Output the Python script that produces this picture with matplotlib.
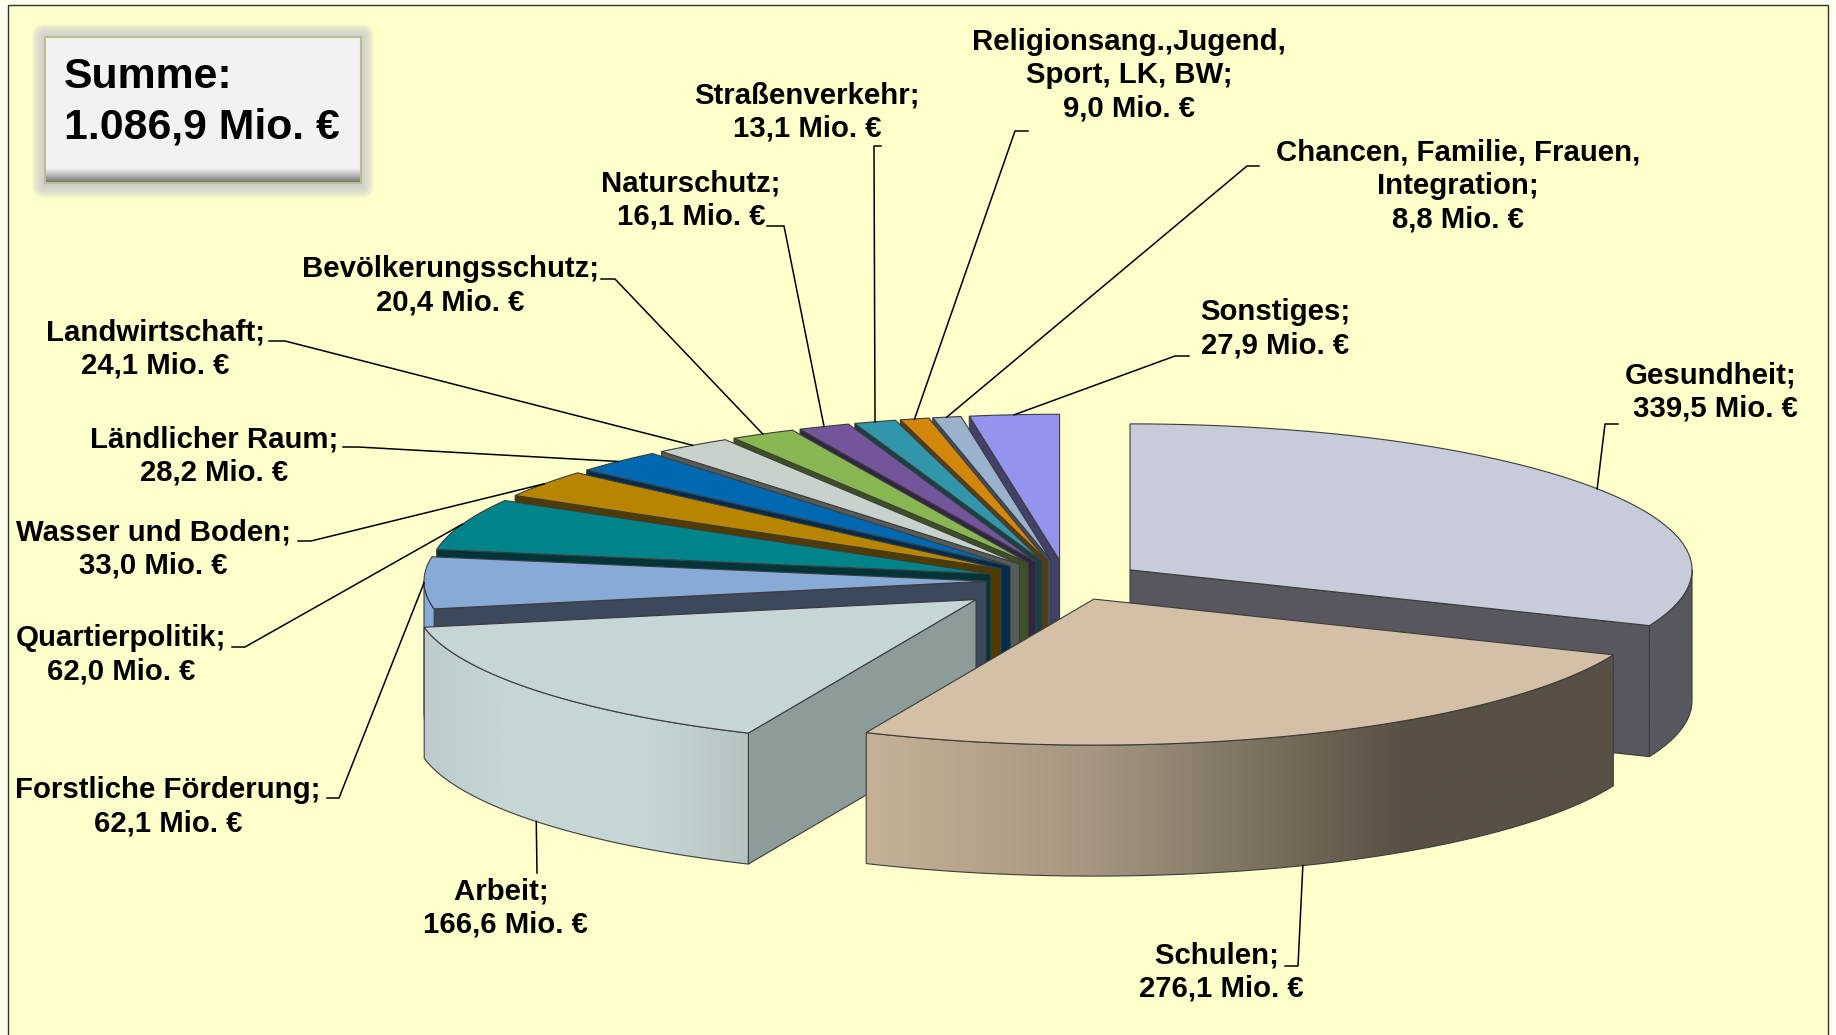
import matplotlib
matplotlib.use("Agg")
import matplotlib.pyplot as plt
from matplotlib.colors import to_rgb, LinearSegmentedColormap
from matplotlib.patches import Polygon, Rectangle, FancyBboxPatch
import numpy as np

plt.rcParams['font.family'] = ['Liberation Sans', 'DejaVu Sans']

# Werte in Mio. Euro, im Uhrzeigersinn ab 12 Uhr
namen = ["Gesundheit", "Schulen", "Arbeit", "Forstliche Förderung", "Quartierpolitik",
         "Wasser und Boden", "Ländlicher Raum", "Landwirtschaft", "Bevölkerungsschutz",
         "Naturschutz", "Straßenverkehr", "Religionsang.,Jugend,\nSport, LK, BW",
         "Chancen, Familie, Frauen,\nIntegration", "Sonstiges"]
werte = [339.5, 276.1, 166.6, 62.1, 62.0, 33.0, 28.2, 24.1, 20.4, 16.1, 13.1, 9.0, 8.8, 27.9]
summe = "1.086,9"

farben = ["#c8cbda", "#d4c1a5", "#c6d6d6", "#87aad7", "#00848a", "#b88500", "#0068b0",
          "#c8d2cc", "#87b652", "#73559b", "#3296aa", "#d2870a", "#9bb2cd", "#9494ee"]
waende = ["#58575f", "#585044", "#8e9b9b", "#3c485c", "#003437", "#503a00", "#002c4c",
          "#585c58", "#3c5023", "#322544", "#164148", "#5c3c05", "#444e5a", "#414169"]

# Layout in Pixeln
cx, cy = 1066, 581
rx, ry = 562, 146
tiefe = 131
explosion = [77, 75, 115, 80, 80, 80, 80, 80, 80, 80, 80, 80, 80, 80]

# Mitte der Beschriftung, Knick und Anfang der Führungslinie
label_pos = [(1711, 392), (1221, 972), (505, 908), (168, 807), (121, 655), (153, 549), (214, 456),
             (155, 349), (450, 286), (691, 200), (807, 112), (1129, 75), (1458, 186), (1275, 329)]
knick = [[(1618, 424), (1605, 424)], [(1285, 966), (1298, 966)], [(537, 873)], [(327, 798), (339, 798)],
         [(232, 647), (245, 647)], [(298, 541), (311, 541)], [(343, 447), (358, 447)],
         [(269, 341), (285, 341)], [(601, 279), (615, 279)], [(767, 226), (784, 226)],
         [(881, 146), (874, 146)], [(1028, 131), (1015, 131)], [(1259, 166), (1247, 166)],
         [(1189, 356), (1175, 356)]]
# Schulen und Arbeit stehen in der ersten Zeile leicht nach links versetzt
zeile_extra = ["", " ", " ", "", "", "", "", "", "", "", "", "", "", ""]


def punkt(ox, oy, winkel):
    return ox + rx * np.sin(winkel), oy - ry * np.cos(winkel)


def rand_farbe(i, x):
    # Außenwand: Schulen und Arbeit mit Verlauf, sonst einfarbig
    if i == 1:
        stufen = [np.interp(x, [866, 1100, 1406], [a, b, c]) for a, b, c in
                  zip(to_rgb("#c5b296"), to_rgb("#a39580"), to_rgb("#585044"))]
    elif i == 2:
        stufen = [np.interp(x, [424, 500, 650, 750], [a, b, b, c]) for a, b, c in
                  zip(to_rgb("#bccccc"), to_rgb("#c6d6d6"), to_rgb("#b5c2c2"))]
    elif i == 0:
        stufen = [np.full_like(x, v) for v in to_rgb(waende[0])]
    else:
        stufen = [np.full_like(x, v) for v in to_rgb(farben[i])]
    return np.stack(stufen, axis=-1)


fig = plt.figure(figsize=(18.36, 10.35), dpi=100, facecolor="#fffff0")
ax = fig.add_axes([0, 0, 1, 1])
ax.set_xlim(0, 1836)
ax.set_ylim(1035, 0)
ax.set_autoscale_on(False)
ax.axis("off")

ax.add_patch(Rectangle((8, 5), 1820, 1040, facecolor="#ffffcc", edgecolor="#333333", lw=1.0, zorder=0))

kanten = "#3c3c3c"
anteile = np.array(werte) / sum(werte) * 2 * np.pi
grenzen = np.concatenate([[0], np.cumsum(anteile)])
mitten = (grenzen[:-1] + grenzen[1:]) / 2
apex_x = cx + np.array(explosion) * np.sin(mitten)
apex_y = cy - np.array(explosion) * ry / rx * np.cos(mitten)

# von hinten nach vorne zeichnen
reihenfolge = [13, 12, 11, 10, 9, 8, 7, 6, 5, 4, 3, 0, 2, 1]
z = 2
for i in reihenfolge:
    a0, a1 = grenzen[i], grenzen[i + 1]
    ox, oy = apex_x[i], apex_y[i]
    for a, sichtbar in ((a0, np.sin(a0) < -1e-6), (a1, np.sin(a1) > 1e-6)):
        if sichtbar:
            px, py = punkt(ox, oy, a)
            ax.add_patch(Polygon([(ox, oy), (px, py), (px, py + tiefe), (ox, oy + tiefe)],
                                 facecolor=waende[i], edgecolor=kanten, lw=0.8, zorder=z))
    # Außenwand nur im vorderen Teil sichtbar
    v0, v1 = max(a0, np.pi / 2), min(a1, 3 * np.pi / 2)
    if v1 > v0:
        w = np.linspace(v0, v1, 160)
        xs, ys = punkt(ox, oy, w)
        umriss = np.column_stack([np.r_[xs, xs[::-1]], np.r_[ys, ys[::-1] + tiefe]])
        rand = Polygon(umriss, facecolor="none", edgecolor=kanten, lw=0.8, zorder=z)
        spalten = np.arange(np.floor(xs.min()), np.ceil(xs.max()) + 1)
        bild = ax.imshow(rand_farbe(i, spalten)[np.newaxis, :, :], aspect="auto", zorder=z,
                         extent=(spalten[0], spalten[-1], umriss[:, 1].max(), umriss[:, 1].min()),
                         interpolation="bilinear")
        ax.add_patch(rand)
        bild.set_clip_path(rand)
    w = np.linspace(a0, a1, 200)
    xs, ys = punkt(ox, oy, w)
    ax.add_patch(Polygon(np.column_stack([np.r_[ox, xs], np.r_[oy, ys]]), facecolor=farben[i],
                         edgecolor=kanten, lw=0.8, joinstyle="miter", zorder=z))
    z += 1

# Beschriftungen und Führungslinien
for i, name in enumerate(namen):
    ex, ey = punkt(apex_x[i], apex_y[i], mitten[i])
    if np.cos(mitten[i]) < -0.3:
        ey += tiefe
    linie = knick[i] + [(ex, ey)]
    ax.plot([p[0] for p in linie], [p[1] for p in linie], color="black", lw=1.1, zorder=30)
    zweite = f"{werte[i]:.1f}".replace(".", ",") + " Mio. €"
    if i == 0:
        zweite = " " + zweite
    ax.text(label_pos[i][0], label_pos[i][1], f"{name};{zeile_extra[i]}\n{zweite}", ha="center", va="center",
            fontsize=21.2, fontweight="bold", color="black", linespacing=1.24, zorder=31)

# Summen-Kasten mit Schatten
for s in range(13, 0, -1):
    ax.add_patch(FancyBboxPatch((45 - s, 37 - s), 316 + 2 * s, 146 + 2 * s + 2,
                                boxstyle="round,pad=0,rounding_size=%d" % s,
                                facecolor="#cbcbcd", edgecolor="none", alpha=0.12, zorder=35))
ax.add_patch(Rectangle((45, 37), 316, 146, facecolor="#f2f2f2", edgecolor="#bdbd8c", lw=1.5, zorder=36))
ax.imshow(np.linspace(0, 1, 20).reshape(-1, 1), extent=(46, 360, 182, 168), aspect="auto", zorder=37,
          cmap=LinearSegmentedColormap.from_list("k", ["#f2f2f2", "#7c7c7c"]))
ax.text(64, 102, f"Summe:\n{summe} Mio. €", ha="left", va="center", fontsize=30.8, fontweight="bold",
        color="black", linespacing=1.33, zorder=38)

fig.savefig("out.png", dpi=100, facecolor=fig.get_facecolor())
